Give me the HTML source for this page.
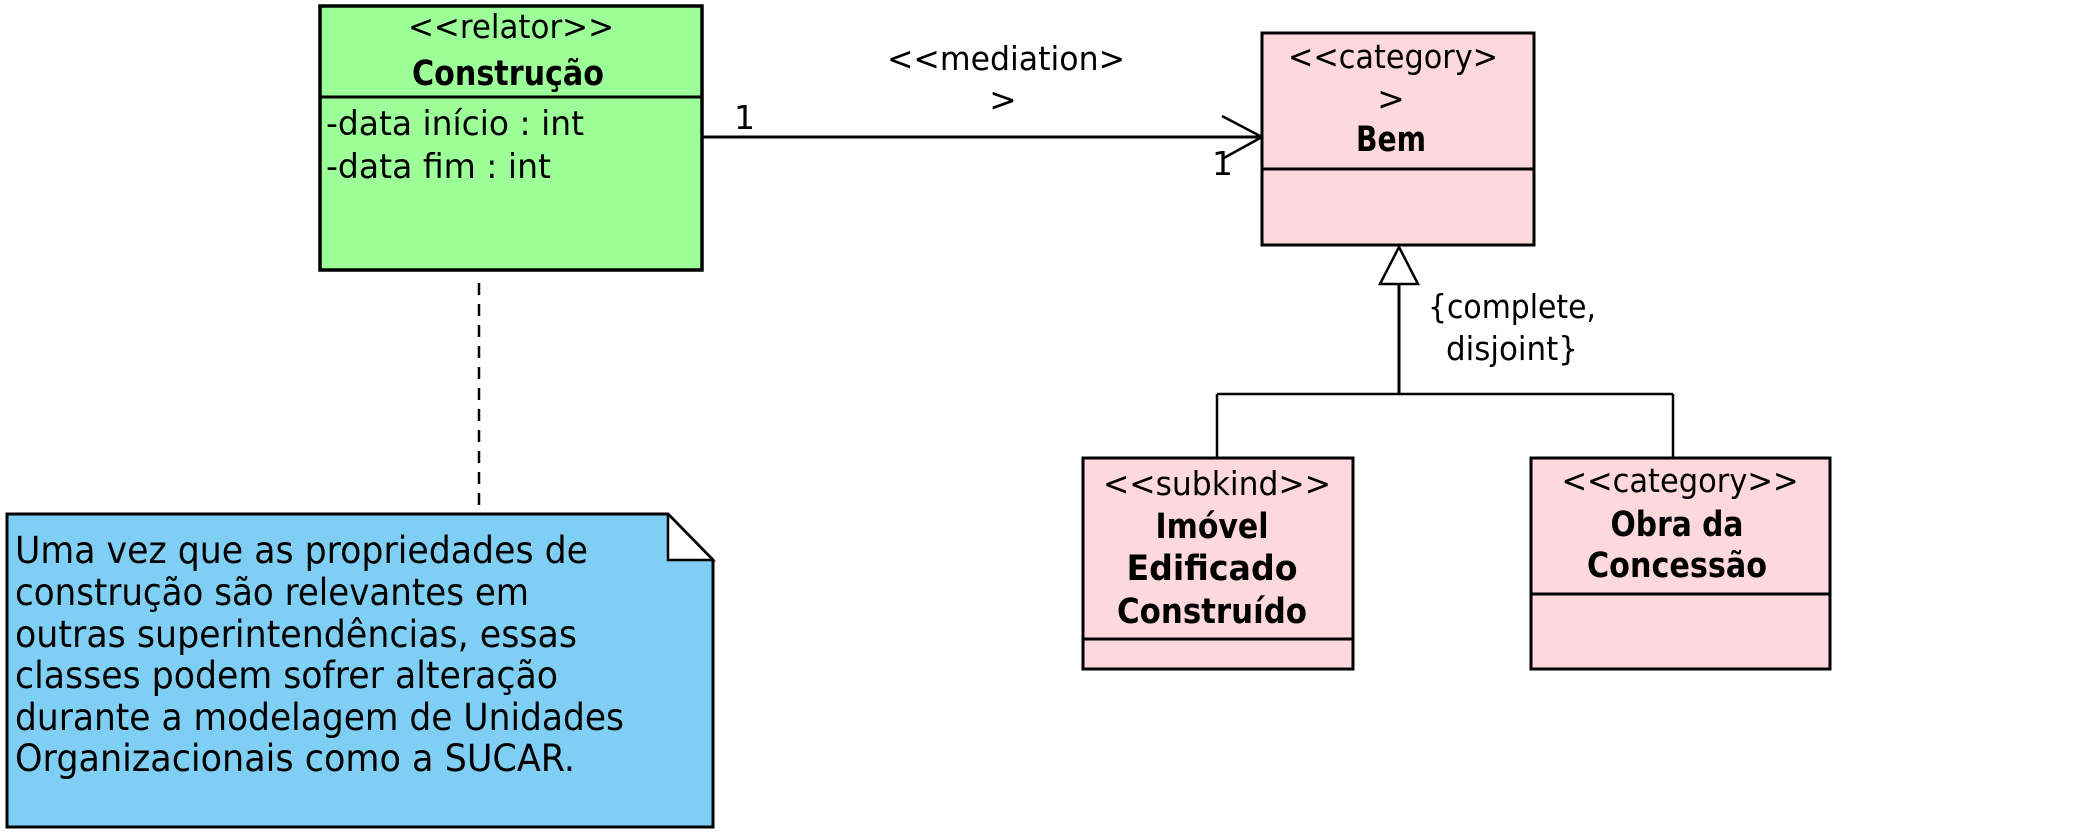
<!DOCTYPE html>
<html><head><meta charset="utf-8"><style>
html,body{margin:0;padding:0;background:#fff;}
svg{display:block;}
text{font-family:"DejaVu Sans","Liberation Sans",sans-serif;fill:#000;}
</style></head><body>
<svg width="2100" height="840" viewBox="0 0 2100 840" xmlns="http://www.w3.org/2000/svg">
<!-- Construção -->
<rect x="320" y="6" width="382" height="264" fill="#9dff98" stroke="#000" stroke-width="3.5"/>
<line x1="320" y1="97" x2="702" y2="97" stroke="#000" stroke-width="3"/>
<text x="511" y="38" font-size="33" text-anchor="middle" textLength="206" lengthAdjust="spacingAndGlyphs">&lt;&lt;relator&gt;&gt;</text>
<text x="508" y="85" font-size="35" font-weight="bold" text-anchor="middle" textLength="192" lengthAdjust="spacingAndGlyphs">Construção</text>
<text x="326" y="135" font-size="34" textLength="258" lengthAdjust="spacingAndGlyphs">-data início : int</text>
<text x="326" y="178" font-size="34" textLength="225" lengthAdjust="spacingAndGlyphs">-data fim : int</text>
<!-- dashed anchor -->
<line x1="479" y1="283" x2="479" y2="514" stroke="#000" stroke-width="2.5" stroke-dasharray="12,9"/>
<!-- note -->
<path d="M7 514 H668 L713 560 V827 H7 Z" fill="#7ecff3" stroke="#000" stroke-width="3"/>
<path d="M669 515 L712 559 H669 Z" fill="#fff"/>
<path d="M668 514 V560 H713 L668 514" fill="none" stroke="#000" stroke-width="2.5"/>
<g font-size="37">
<text x="15" y="563" textLength="573" lengthAdjust="spacingAndGlyphs">Uma vez que as propriedades de</text>
<text x="15" y="605" textLength="514" lengthAdjust="spacingAndGlyphs">construção são relevantes em</text>
<text x="15" y="647" textLength="562" lengthAdjust="spacingAndGlyphs">outras superintendências, essas</text>
<text x="15" y="688" textLength="543" lengthAdjust="spacingAndGlyphs">classes podem sofrer alteração</text>
<text x="15" y="730" textLength="609" lengthAdjust="spacingAndGlyphs">durante a modelagem de Unidades</text>
<text x="15" y="771" textLength="560" lengthAdjust="spacingAndGlyphs">Organizacionais como a SUCAR.</text>
</g>
<!-- mediation -->
<line x1="702" y1="137" x2="1262" y2="137" stroke="#000" stroke-width="3"/>
<polyline points="1222,116 1262,137 1222,159" fill="none" stroke="#000" stroke-width="2.5"/>
<text x="734" y="129" font-size="33">1</text>
<text x="1212" y="175" font-size="33">1</text>
<text x="1006" y="70" font-size="33" text-anchor="middle" textLength="238" lengthAdjust="spacingAndGlyphs">&lt;&lt;mediation&gt;</text>
<text x="1003" y="111" font-size="33" text-anchor="middle">&gt;</text>
<!-- Bem -->
<rect x="1262" y="33" width="272" height="212" fill="#fdd8dc" stroke="#000" stroke-width="3"/>
<line x1="1262" y1="169" x2="1534" y2="169" stroke="#000" stroke-width="3"/>
<text x="1393" y="68" font-size="33" text-anchor="middle" textLength="210" lengthAdjust="spacingAndGlyphs">&lt;&lt;category&gt;</text>
<text x="1391" y="110" font-size="33" text-anchor="middle">&gt;</text>
<text x="1391" y="151" font-size="35" font-weight="bold" text-anchor="middle" textLength="70" lengthAdjust="spacingAndGlyphs">Bem</text>
<!-- generalization -->
<polygon points="1399,247 1380,284 1418,284" fill="#fff" stroke="#000" stroke-width="2.5"/>
<line x1="1399" y1="284" x2="1399" y2="394" stroke="#000" stroke-width="3"/>
<line x1="1217" y1="394" x2="1673" y2="394" stroke="#000" stroke-width="2.5"/>
<line x1="1217" y1="394" x2="1217" y2="457" stroke="#000" stroke-width="2.5"/>
<line x1="1673" y1="394" x2="1673" y2="457" stroke="#000" stroke-width="2.5"/>
<text x="1512" y="318" font-size="33" text-anchor="middle" textLength="168" lengthAdjust="spacingAndGlyphs">{complete,</text>
<text x="1512" y="360" font-size="33" text-anchor="middle" textLength="132" lengthAdjust="spacingAndGlyphs">disjoint}</text>
<!-- Imóvel -->
<rect x="1083" y="458" width="270" height="211" fill="#fdd8dc" stroke="#000" stroke-width="3"/>
<line x1="1083" y1="639" x2="1353" y2="639" stroke="#000" stroke-width="3"/>
<text x="1217" y="495" font-size="33" text-anchor="middle" textLength="228" lengthAdjust="spacingAndGlyphs">&lt;&lt;subkind&gt;&gt;</text>
<text x="1212" y="538" font-size="35" font-weight="bold" text-anchor="middle" textLength="113" lengthAdjust="spacingAndGlyphs">Imóvel</text>
<text x="1212" y="580" font-size="35" font-weight="bold" text-anchor="middle" textLength="171" lengthAdjust="spacingAndGlyphs">Edificado</text>
<text x="1212" y="623" font-size="35" font-weight="bold" text-anchor="middle" textLength="190" lengthAdjust="spacingAndGlyphs">Construído</text>
<!-- Obra -->
<rect x="1531" y="458" width="299" height="211" fill="#fdd8dc" stroke="#000" stroke-width="3"/>
<line x1="1531" y1="594" x2="1830" y2="594" stroke="#000" stroke-width="3"/>
<text x="1680" y="492" font-size="33" text-anchor="middle" textLength="237" lengthAdjust="spacingAndGlyphs">&lt;&lt;category&gt;&gt;</text>
<text x="1677" y="536" font-size="35" font-weight="bold" text-anchor="middle" textLength="133" lengthAdjust="spacingAndGlyphs">Obra da</text>
<text x="1677" y="577" font-size="35" font-weight="bold" text-anchor="middle" textLength="180" lengthAdjust="spacingAndGlyphs">Concessão</text>
</svg>
</body></html>
